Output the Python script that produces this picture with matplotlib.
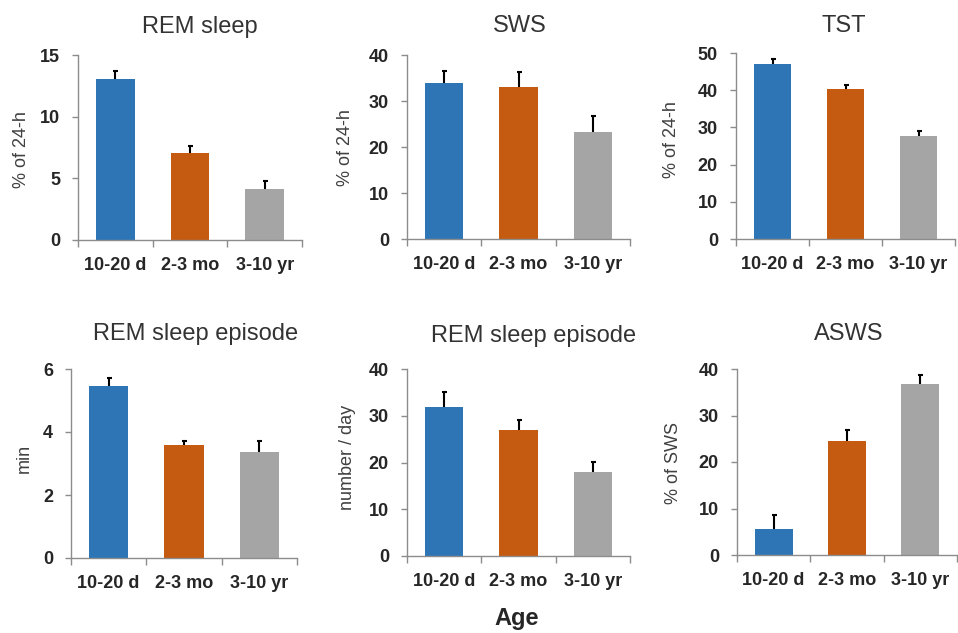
import matplotlib
matplotlib.use("Agg")
import matplotlib.pyplot as plt

plt.rcParams['font.family'] = ['Liberation Sans', 'DejaVu Sans']

ages = ['10-20 d', '2-3 mo', '3-10 yr']
colors = ['#2E75B6', '#C55A11', '#A5A5A5']

titles = ['REM sleep', 'SWS', 'TST', 'REM sleep episode', 'REM sleep episode', 'ASWS']
ylabels = ['% of 24-h', '% of 24-h', '% of 24-h', 'min', 'number / day', '% of SWS']

rem_pct = [13.05, 7.05, 4.1]
rem_pct_err = [0.65, 0.6, 0.7]
sws_pct = [33.9, 33.1, 23.3]
sws_pct_err = [2.6, 3.1, 3.4]
tst_pct = [47.1, 40.3, 27.8]
tst_pct_err = [1.3, 1.2, 1.2]
rem_ep_min = [5.47, 3.59, 3.37]
rem_ep_min_err = [0.24, 0.11, 0.33]
rem_ep_num = [31.9, 26.9, 17.9]
rem_ep_num_err = [3.1, 2.2, 2.3]
asws_pct = [5.5, 24.6, 36.7]
asws_pct_err = [3.1, 2.2, 2.1]

values = [rem_pct, sws_pct, tst_pct, rem_ep_min, rem_ep_num, asws_pct]
errors = [rem_pct_err, sws_pct_err, tst_pct_err, rem_ep_min_err, rem_ep_num_err, asws_pct_err]
ytop = [15, 40, 50, 6, 40, 40]
ystep = [5, 10, 10, 2, 10, 10]

W, H = 958, 633
# axes boxes in pixels: left, right, top, bottom
boxes = [(78, 302, 55, 240), (407, 630, 55, 239), (736, 955, 53, 239),
         (71, 297, 369, 558), (407, 630, 369, 556), (737, 957, 369, 555)]
title_pos = [(200, 33), (520, 32), (844, 32), (196, 340), (534, 342), (849, 340)]
ylab_pos = [(22, 150), (346, 148), (671, 140), (24, 458), (348, 457), (673, 463)]

fig = plt.figure(figsize=(W / 100, H / 100), dpi=100)
axis_col = '#8C8C8C'
txt_col = '#262626'

for i in range(6):
    l, r, t, b = boxes[i]
    ax = fig.add_axes([l / W, 1 - b / H, (r - l) / W, (b - t) / H])
    x = range(len(ages))
    ax.bar(x, values[i], width=0.52, color=colors, zorder=2)
    eb = ax.errorbar(x, values[i], yerr=[[0, 0, 0], errors[i]], fmt='none',
                     ecolor='black', elinewidth=1.5, capsize=1.8, capthick=1.5, zorder=3)
    # only the upper cap, like the original
    eb[1][0].set_visible(False)
    ax.set_xlim(-0.5, 2.5)
    ax.set_ylim(0, ytop[i])
    ax.set_yticks(range(0, ytop[i] + 1, ystep[i]))
    ax.set_xticks([-0.5, 0.5, 1.5, 2.5])
    ax.set_xticklabels([])
    ax.set_xticks(list(x), minor=True)
    ax.set_xticklabels(ages, minor=True)
    ax.tick_params(axis='x', which='major', length=5, width=1, color=axis_col, direction='out')
    ax.tick_params(axis='x', which='minor', length=0, pad=12, labelsize=13, labelcolor=txt_col)
    ax.tick_params(axis='y', length=4, width=1, color=axis_col, pad=9, labelsize=13, labelcolor=txt_col)
    for lab in ax.get_xticklabels(minor=True) + ax.get_yticklabels():
        lab.set_fontweight('bold')
    for s in ['top', 'right']:
        ax.spines[s].set_visible(False)
    for s in ['left', 'bottom']:
        ax.spines[s].set_color(axis_col)
        ax.spines[s].set_linewidth(1)
    ax.patch.set_alpha(0)

    tx, ty = title_pos[i]
    fig.text(tx / W, 1 - ty / H, titles[i], ha='center', va='baseline',
             fontsize=17, color='#333333')
    lx, ly = ylab_pos[i]
    fig.text(lx / W, 1 - ly / H, ylabels[i], ha='center', va='center',
             rotation=90, fontsize=13, color='#404040')

fig.text(517 / W, 1 - 625 / H, 'Age', ha='center', va='baseline',
         fontsize=17, fontweight='bold', color=txt_col)

fig.savefig('out.png', dpi=100)
